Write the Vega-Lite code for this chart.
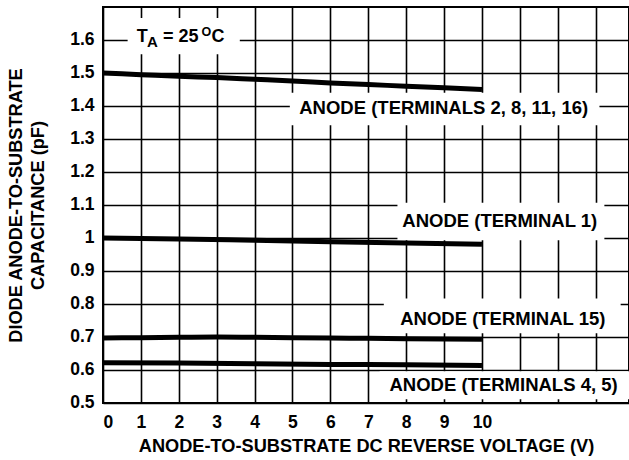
{
  "$schema": "https://vega.github.io/schema/vega-lite/v6.json",
  "autosize": {"type": "none"},
  "padding": {"left": 103, "top": 7, "right": 0, "bottom": 57},
  "width": 526,
  "height": 396,
  "background": "white",
  "config": {
    "font": "Liberation Sans",
    "view": {"stroke": "black", "strokeWidth": 2},
    "axis": {
      "grid": true,
      "gridColor": "black",
      "gridWidth": 1.6,
      "gridOpacity": 1,
      "domain": false,
      "ticks": false,
      "labelOverlap": false,
      "labelFont": "Liberation Sans",
      "labelFontWeight": "bold",
      "labelFontSize": 17.5,
      "labelColor": "black",
      "titleFont": "Liberation Sans",
      "titleFontWeight": "bold",
      "titleFontSize": 18.2,
      "titleColor": "black"
    }
  },
  "datasets": {
    "curves": [
      {"series": "A", "v": 0, "c": 1.5},
      {"series": "A", "v": 1, "c": 1.495},
      {"series": "A", "v": 2, "c": 1.49},
      {"series": "A", "v": 3, "c": 1.486},
      {"series": "A", "v": 4, "c": 1.481},
      {"series": "A", "v": 5, "c": 1.476},
      {"series": "A", "v": 6, "c": 1.47},
      {"series": "A", "v": 7, "c": 1.465},
      {"series": "A", "v": 8, "c": 1.46},
      {"series": "A", "v": 9, "c": 1.455},
      {"series": "A", "v": 10, "c": 1.45},
      {"series": "B", "v": 0, "c": 1.0},
      {"series": "B", "v": 2, "c": 0.997},
      {"series": "B", "v": 4, "c": 0.993},
      {"series": "B", "v": 6, "c": 0.989},
      {"series": "B", "v": 8, "c": 0.985},
      {"series": "B", "v": 10, "c": 0.981},
      {"series": "C", "v": 0, "c": 0.697},
      {"series": "C", "v": 1, "c": 0.698},
      {"series": "C", "v": 2, "c": 0.699},
      {"series": "C", "v": 3, "c": 0.7},
      {"series": "C", "v": 4, "c": 0.699},
      {"series": "C", "v": 5, "c": 0.698},
      {"series": "C", "v": 6, "c": 0.697},
      {"series": "C", "v": 7, "c": 0.696},
      {"series": "C", "v": 8, "c": 0.695},
      {"series": "C", "v": 9, "c": 0.694},
      {"series": "C", "v": 10, "c": 0.693},
      {"series": "D", "v": 0, "c": 0.622},
      {"series": "D", "v": 2, "c": 0.621},
      {"series": "D", "v": 4, "c": 0.619},
      {"series": "D", "v": 6, "c": 0.617},
      {"series": "D", "v": 8, "c": 0.616},
      {"series": "D", "v": 10, "c": 0.614}
    ],
    "boxes": [
      {"x1": 0.65, "x2": 3.61, "y1": 1.557, "y2": 1.667},
      {"x1": 4.93, "x2": 13.1, "y1": 1.342, "y2": 1.44},
      {"x1": 7.77, "x2": 13.23, "y1": 0.993, "y2": 1.107},
      {"x1": 7.41, "x2": 13.66, "y1": 0.711, "y2": 0.817},
      {"x1": 7.3, "x2": 13.88, "y1": 0.511, "y2": 0.596}
    ],
    "labels": [
      {"label": "ANODE (TERMINALS 2, 8, 11, 16)", "x": 8.99, "y": 1.377},
      {"label": "ANODE (TERMINAL 1)", "x": 10.47, "y": 1.034},
      {"label": "ANODE (TERMINAL 15)", "x": 10.55, "y": 0.7355},
      {"label": "ANODE (TERMINALS 4, 5)", "x": 10.57, "y": 0.536}
    ],
    "ta_main": [
      {"t": "T", "x": 0.89, "y": 1.594},
      {"t": "= 25", "x": 1.58, "y": 1.594},
      {"t": "C", "x": 2.86, "y": 1.594}
    ],
    "ta_sub": [
      {"t": "A", "x": 1.16, "y": 1.579}
    ],
    "ta_sup": [
      {"t": "O", "x": 2.6, "y": 1.613}
    ]
  },
  "layer": [
    {
      "data": {"name": "boxes"},
      "mark": {"type": "rect", "fill": "white", "stroke": null},
      "encoding": {
        "x": {
          "field": "x1", "type": "quantitative",
          "scale": {"domain": [0, 13.88], "nice": false, "zero": false},
          "axis": {
            "values": [0, 1, 2, 3, 4, 5, 6, 7, 8, 9, 10, 11, 12, 13],
            "tickCount": 30,
            "labelExpr": "datum.value <= 10 ? format(datum.value, 'd') : ''",
            "labelPadding": 10,
            "title": "ANODE-TO-SUBSTRATE DC REVERSE VOLTAGE (V)",
            "titlePadding": 7
          }
        },
        "x2": {"field": "x2"},
        "y": {
          "field": "y1", "type": "quantitative",
          "scale": {"domain": [0.5, 1.7], "nice": false, "zero": false},
          "axis": {
            "values": [0.5, 0.6, 0.7, 0.8, 0.9, 1, 1.1, 1.2, 1.3, 1.4, 1.5, 1.6],
            "tickCount": 30,
            "labelExpr": "format(datum.value, '.1~f')",
            "labelPadding": 9,
            "labelBaseline": "middle",
            "labelOffset": -1,
            "title": ["DIODE ANODE-TO-SUBSTRATE", "CAPACITANCE (pF)"],
            "titleLineHeight": 22,
            "titlePadding": 22
          }
        },
        "y2": {"field": "y2"}
      }
    },
    {
      "data": {"name": "curves"},
      "mark": {"type": "line", "color": "black", "strokeWidth": 5, "strokeCap": "butt", "interpolate": "monotone"},
      "encoding": {
        "x": {"field": "v", "type": "quantitative"},
        "y": {"field": "c", "type": "quantitative"},
        "detail": {"field": "series"}
      }
    },
    {
      "data": {"name": "labels"},
      "mark": {"type": "text", "fontSize": 18.5, "fontWeight": "bold", "color": "black", "align": "center", "baseline": "alphabetic"},
      "encoding": {
        "x": {"field": "x", "type": "quantitative"},
        "y": {"field": "y", "type": "quantitative"},
        "text": {"field": "label"}
      }
    },
    {
      "data": {"name": "ta_main"},
      "mark": {"type": "text", "fontSize": 18, "fontWeight": "bold", "color": "black", "align": "left", "baseline": "alphabetic"},
      "encoding": {
        "x": {"field": "x", "type": "quantitative"},
        "y": {"field": "y", "type": "quantitative"},
        "text": {"field": "t"}
      }
    },
    {
      "data": {"name": "ta_sub"},
      "mark": {"type": "text", "fontSize": 15, "fontWeight": "bold", "color": "black", "align": "left", "baseline": "alphabetic"},
      "encoding": {
        "x": {"field": "x", "type": "quantitative"},
        "y": {"field": "y", "type": "quantitative"},
        "text": {"field": "t"}
      }
    },
    {
      "data": {"name": "ta_sup"},
      "mark": {"type": "text", "fontSize": 12.5, "fontWeight": "bold", "color": "black", "align": "left", "baseline": "alphabetic"},
      "encoding": {
        "x": {"field": "x", "type": "quantitative"},
        "y": {"field": "y", "type": "quantitative"},
        "text": {"field": "t"}
      }
    }
  ]
}
